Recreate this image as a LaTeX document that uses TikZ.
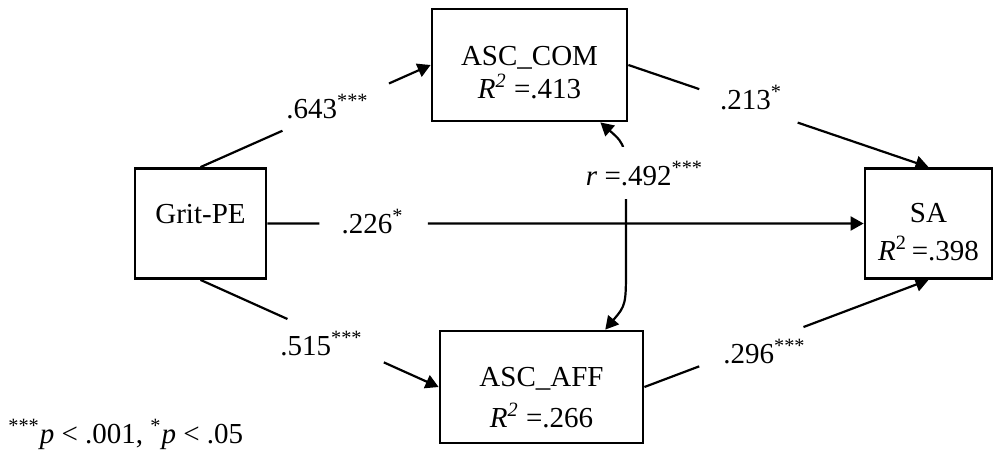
\documentclass[tikz,border=0pt]{standalone}
\usepackage{fontspec}
\setmainfont{Liberation Serif}
\usetikzlibrary{positioning,arrows.meta,calc}

\begin{document}
\begin{tikzpicture}[x=0.5pt,y=-0.5pt,
  every node/.style={font=\fontsize{14.5}{17.4}\selectfont},
  var/.style={draw,line width=1.4pt,align=center,inner sep=0pt,minimum height=55pt,text depth=0pt},
  coef/.style={anchor=base,inner sep=0pt},
  effect/.style={line width=1.1pt,-{Triangle[length=6.5pt,width=7pt]}},
  plain/.style={line width=1.1pt},
  corr/.style={line width=1.1pt,{Triangle[length=6.5pt,width=7pt]}-{Triangle[length=6.5pt,width=7pt]}}
]
\useasboundingbox (0,0) rectangle (994,451);

% variables
\node[var,minimum width=65.5pt,text height=9pt,text depth=9.5pt] (grit) at (200.5,223.5) {Grit-PE};
\node[var,minimum width=97.5pt,minimum height=56pt,text height=33pt] (com) at (529.5,65)
  {ASC\_COM\\[-0.9pt]\textit{R}\textsuperscript{\textit{2}} =.413};
\node[var,minimum width=101.5pt,minimum height=56pt,text height=40pt] (aff) at (541.5,387)
  {ASC\_AFF\\[3.1pt]\textit{R}\textsuperscript{\textit{2}} =.266};
\node[var,minimum width=63.5pt,text height=36.5pt] (sa) at (928.5,223.5)
  {SA\\[1.6pt]\textit{R}\textsuperscript{2}\,=.398};

% paths, broken where the coefficients stand
\foreach \a/\b/\s/\e in {grit.north/com.west/.356/.819,
                         grit.south/aff.west/.365/.770,
                         grit.east/sa.west/.087/.269,
                         com.east/sa.north/.236/.564,
                         aff.east/sa.south/.193/.560}{
  \draw[plain] (\a) -- ($(\a)!\s!(\b)$);
  \draw[effect] ($(\a)!\e!(\b)$) -- (\b);
}

\node[coef] (b643) at (327.5,118) {.643\textsuperscript{***}};
\node[coef] (b515) at (321.5,355) {.515\textsuperscript{***}};
\node[coef] (b226) at (372.5,233) {.226\textsuperscript{*}};
\node[coef] (b213) at (751,109) {.213\textsuperscript{*}};
\node[coef] (b296) at (764.5,363) {.296\textsuperscript{***}};

% correlation
\draw[corr] (com.-39) .. controls (626,145) .. (626,200) -- (626,264) .. controls (626,305) .. (aff.42);
\node[coef,fill=white,inner sep=7pt] (r492) at (644.5,185) {\textit{r} =.492\textsuperscript{***}};

\node[anchor=base west,inner sep=0pt] (note) at (8,443)
  {\textsuperscript{***}\textit{p} < .001, \textsuperscript{*}\textit{p} < .05};
\end{tikzpicture}
\end{document}
